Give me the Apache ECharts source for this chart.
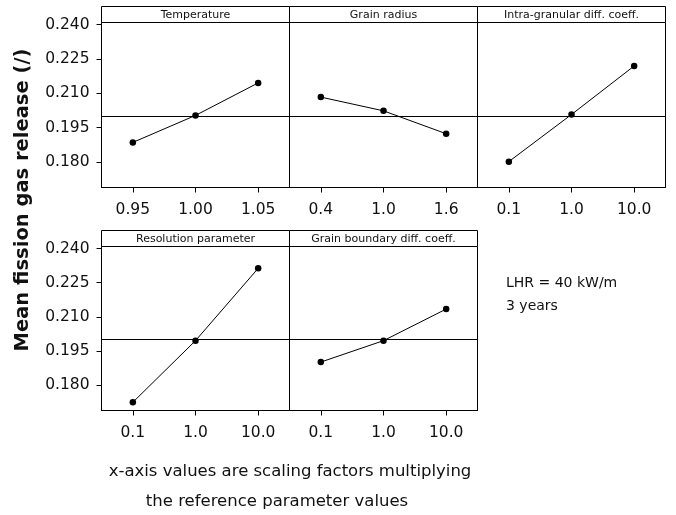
<!DOCTYPE html>
<html>
<head>
<meta charset="utf-8">
<script src="https://cdn.jsdelivr.net/npm/echarts@6/dist/echarts.min.js"></script>
<style>html,body{margin:0;padding:0;background:#fff;}#c{width:676px;height:515px;}</style>
</head>
<body>
<div id="c"></div>
<script>
// ---- data ----
var panelTitles = ['Temperature', 'Grain radius', 'Intra-granular diff. coeff.', 'Resolution parameter', 'Grain boundary diff. coeff.'];
var tempCats = ['0.95', '1.00', '1.05'];
var radiusCats = ['0.4', '1.0', '1.6'];
var intraCats = ['0.1', '1.0', '10.0'];
var resCats = ['0.1', '1.0', '10.0'];
var gbCats = ['0.1', '1.0', '10.0'];
var tempVals = [0.1885, 0.2003, 0.2145];
var radiusVals = [0.2083, 0.2023, 0.1923];
var intraVals = [0.1801, 0.2007, 0.2219];
var resVals = [0.1724, 0.1995, 0.2313];
var gbVals = [0.1901, 0.1995, 0.2134];
var grandMean = 0.201;
var yTicks = [0.180, 0.195, 0.210, 0.225, 0.240];
var yMin = 0.1688, yMax = 0.2409;
var yTitle = 'Mean fission gas release (/)';
var noteLines = ['LHR = 40 kW/m', '3 years'];
var footLines = ['x-axis values are scaling factors multiplying', 'the reference parameter values'];

var cats = [tempCats, radiusCats, intraCats, resCats, gbCats];
var vals = [tempVals, radiusVals, intraVals, resVals, gbVals];

// ---- layout ----
var lefts = [101.5, 289.5, 477.5, 101.5, 289.5];
var tops = [22.5, 22.5, 22.5, 246.5, 246.5];
var heights = [165, 165, 165, 164, 164];
var W = 188, HH = 16;

var grids = [], xAxes = [], yAxes = [], series = [], graphics = [];
for (var i = 0; i < 5; i++) {
  grids.push({left: lefts[i], top: tops[i], width: W, height: heights[i], show: true,
    borderColor: '#000', borderWidth: 1, backgroundColor: 'transparent', containLabel: false});
  xAxes.push({type: 'category', gridIndex: i, data: cats[i], boundaryGap: true,
    axisLine: {show: true, lineStyle: {color: '#000', width: 1}},
    axisTick: {show: true, alignWithLabel: true, length: 5, lineStyle: {color: '#000'}},
    axisLabel: {color: '#111', fontFamily: 'DejaVu Sans', fontSize: 15.5, margin: 14},
    splitLine: {show: false}});
  var first = (i === 0 || i === 3);
  yAxes.push({type: 'value', gridIndex: i, min: yMin, max: yMax,
    axisLine: {show: true, lineStyle: {color: '#000', width: 1}},
    axisTick: {show: first, length: 5, customValues: yTicks, lineStyle: {color: '#000'}},
    axisLabel: {show: first, customValues: yTicks, color: '#111', fontFamily: 'DejaVu Sans', fontSize: 15.5, margin: 12,
      formatter: function (v) { return v.toFixed(3); }},
    splitLine: {show: false}});
  series.push({type: 'line', xAxisIndex: i, yAxisIndex: i, data: vals[i],
    symbol: 'circle', symbolSize: 6.5, itemStyle: {color: '#000'},
    lineStyle: {color: '#000', width: 1}, silent: true, animation: false,
    markLine: {silent: true, symbol: 'none', label: {show: false},
      lineStyle: {color: '#000', width: 1, type: 'solid'}, data: [{yAxis: grandMean}]}});
  var hy = tops[i] - HH;
  graphics.push({type: 'rect', shape: {x: lefts[i], y: hy, width: W, height: HH},
    style: {fill: '#fff', stroke: '#000', lineWidth: 1}});
  graphics.push({type: 'text', x: lefts[i] + W / 2, y: hy + HH / 2 + 0.5,
    style: {text: panelTitles[i], font: '11px "DejaVu Sans"', fill: '#111', align: 'center', verticalAlign: 'middle'}});
}
graphics.push({type: 'text', x: 23, y: 200, rotation: Math.PI / 2,
  style: {text: yTitle, font: 'bold 19.5px "DejaVu Sans"', fill: '#111', align: 'center', verticalAlign: 'middle'}});
graphics.push({type: 'text', x: 506, y: 283,
  style: {text: noteLines[0], font: '14px "DejaVu Sans"', fill: '#111', align: 'left', verticalAlign: 'middle'}});
graphics.push({type: 'text', x: 506, y: 306,
  style: {text: noteLines[1], font: '14px "DejaVu Sans"', fill: '#111', align: 'left', verticalAlign: 'middle'}});
graphics.push({type: 'text', x: 290, y: 472,
  style: {text: footLines[0], font: '16.5px "DejaVu Sans"', fill: '#111', align: 'center', verticalAlign: 'middle'}});
graphics.push({type: 'text', x: 277, y: 502,
  style: {text: footLines[1], font: '16.5px "DejaVu Sans"', fill: '#111', align: 'center', verticalAlign: 'middle'}});

var chart = echarts.init(document.getElementById('c'), null, {renderer: 'canvas'});
chart.setOption({
  animation: false,
  backgroundColor: '#fff',
  grid: grids, xAxis: xAxes, yAxis: yAxes, series: series,
  graphic: graphics
});
</script>
</body>
</html>
